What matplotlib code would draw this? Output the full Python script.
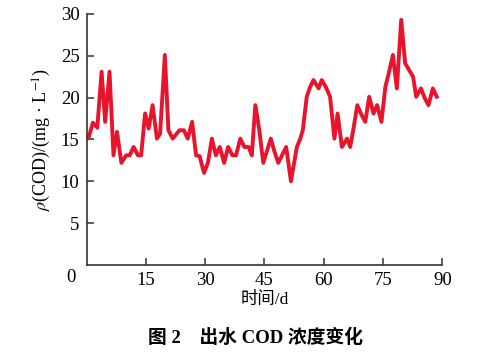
import matplotlib
matplotlib.use('Agg')
import matplotlib.pyplot as plt

# effluent COD
days = [0.5, 1.6, 2.7, 3.8, 4.7, 5.8, 6.8, 7.7, 8.8, 10.0, 10.9, 11.9, 13.0, 13.8,
        14.8, 15.7, 16.7, 17.8, 18.6, 19.8, 20.7, 21.8, 23.5, 24.6, 25.6, 26.7,
        27.7, 28.6, 29.7, 30.7, 31.7, 32.7, 33.7, 34.8, 35.8, 36.9, 37.8, 38.9,
        39.9, 41.0, 41.8, 42.7, 43.7, 44.7, 46.6, 47.5, 48.5, 50.5, 51.7, 53.2,
        54.0, 54.7, 55.7, 56.5, 57.4, 58.7, 59.5, 60.5, 61.6, 62.7, 63.5, 64.6,
        65.9, 66.7, 67.6, 68.5, 69.5, 70.5, 71.5, 72.6, 73.5, 74.6, 75.6, 76.5,
        77.5, 78.5, 79.6, 80.6, 81.6, 82.6, 83.4, 84.6, 85.5, 86.5, 87.6, 88.6]
cod = [15.2, 17.0, 16.4, 23.1, 17.1, 23.1, 13.1, 15.9, 12.2, 13.1, 13.1, 14.1, 13.1, 13.1,
       18.1, 16.3, 19.1, 15.1, 15.7, 25.1, 16.1, 15.1, 16.1, 16.1, 15.1, 17.1,
       13.1, 13.0, 11.0, 12.2, 15.1, 13.1, 14.1, 12.2, 14.1, 13.1, 13.1, 15.1,
       14.1, 14.1, 13.1, 19.1, 16.1, 12.2, 15.1, 13.6, 12.2, 14.1, 10.0, 14.1,
       15.0, 16.1, 20.1, 21.2, 22.1, 21.1, 22.1, 21.3, 20.1, 15.1, 18.1, 14.1,
       15.1, 14.1, 16.5, 19.1, 18.0, 17.1, 20.1, 18.1, 19.1, 17.1, 21.3, 23.0,
       25.1, 21.1, 29.3, 24.1, 23.3, 22.5, 20.1, 21.1, 20.0, 19.1, 21.1, 20.1]

xticks = [15, 30, 45, 60, 75, 90]
yticks = [5, 10, 15, 20, 25, 30]

plt.rcParams['font.family'] = ['Liberation Serif', 'Noto Sans CJK SC']
plt.rcParams['mathtext.fontset'] = 'stix'

fig = plt.figure(figsize=(4.92, 3.58), dpi=100)
ax = fig.add_axes([0.176, 0.260, 0.723, 0.701])

ax.plot(days, cod, color='#e8142c', lw=2.8, solid_joinstyle='round')

ax.set_xlim(0, 90)
ax.set_ylim(0, 30)
ax.set_xticks(xticks)
ax.set_yticks(yticks)
ax.tick_params(direction='in', length=5, width=1.1, color='#333333',
               labelsize=13.5, pad=5)
for s in ['top', 'right']:
    ax.spines[s].set_visible(False)
for s in ['left', 'bottom']:
    ax.spines[s].set_color('#333333')
    ax.spines[s].set_linewidth(1.2)

ax.text(-0.03, -0.05, '0', transform=ax.transAxes, ha='right', va='center', fontsize=13.5)

ax.set_ylabel(r'$\rho$(COD)/(mg · L$^{-1}$)', fontsize=13, labelpad=6)
ax.set_xlabel('时间/d', fontsize=12.5, labelpad=2)

fig.text(0.52, 0.055, '图 2　出水 COD 浓度变化', ha='center', va='center',
         fontsize=13.5, fontweight='bold')

fig.savefig('out.png', dpi=100)
